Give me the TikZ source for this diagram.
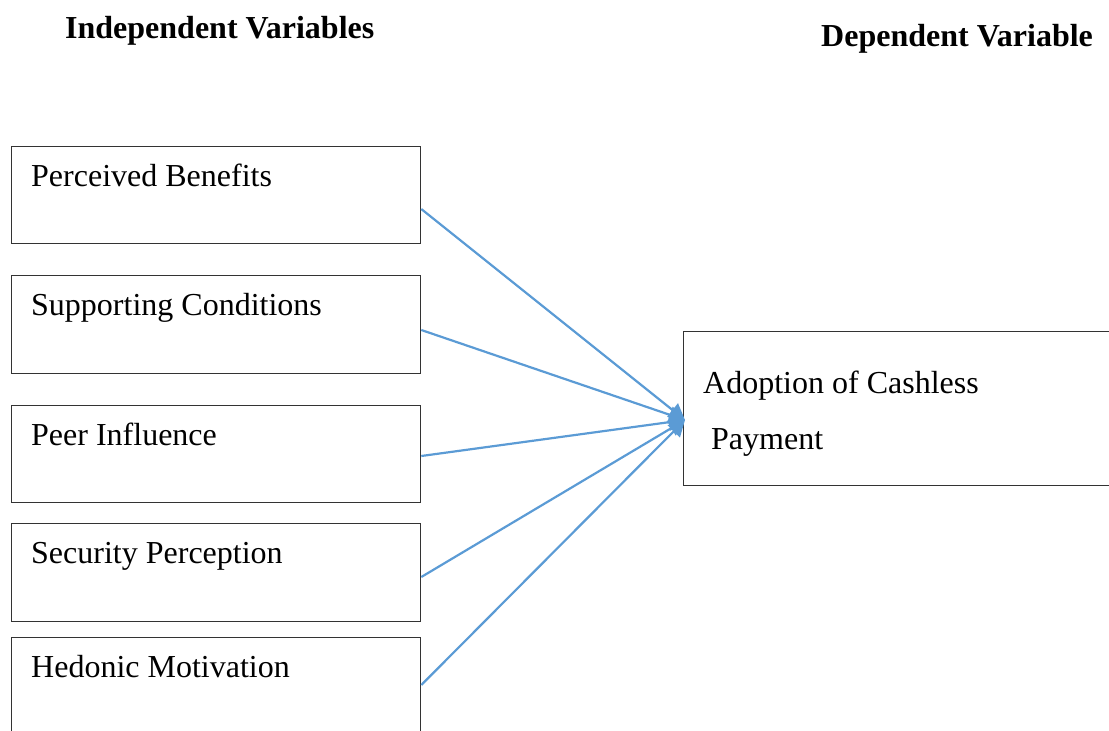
\documentclass[tikz,border=0pt]{standalone}
\usepackage{fontspec}
\setmainfont{Liberation Serif}
\usetikzlibrary{arrows.meta}
\definecolor{arrowblue}{HTML}{5B9BD5}
\definecolor{boxline}{HTML}{333333}
\tikzset{
  varbox/.style={draw=boxline, line width=1.3pt, rectangle, anchor=north west, inner sep=0pt},
  vartext/.style={anchor=base west, inner sep=0pt, font=\fontsize{32}{38}\selectfont},
  head/.style={anchor=base west, inner sep=0pt, font=\fontsize{32}{38}\selectfont\bfseries},
  conn/.style={draw=arrowblue, line width=2.2pt, -{Triangle[length=16pt,width=17pt]}}
}
\begin{document}
\begin{tikzpicture}[x=1pt,y=-1pt]
\useasboundingbox (0,0) rectangle (1109,731);
\clip (0,0) rectangle (1109,731);
\node[head] (hind) at (65,38) {Independent Variables};
\node[head] (hdep) at (821,46) {Dependent Variable};
% left boxes
\node[varbox, minimum width=409pt, minimum height=97pt] (b1) at (11,146) {};
\node[varbox, minimum width=409pt, minimum height=98pt] (b2) at (11,275) {};
\node[varbox, minimum width=409pt, minimum height=97pt] (b3) at (11,405) {};
\node[varbox, minimum width=409pt, minimum height=98pt] (b4) at (11,523) {};
\node[varbox, minimum width=409pt, minimum height=120pt] (b5) at (11,637) {};
\node[vartext] (t1) at (31,186) {Perceived Benefits};
\node[vartext] (t2) at (31,315) {Supporting Conditions};
\node[vartext] (t3) at (31,445) {Peer Influence};
\node[vartext] (t4) at (31,563) {Security Perception};
\node[vartext] (t5) at (31,677) {Hedonic Motivation};
% right box
\node[varbox, minimum width=460pt, minimum height=154pt] (dep) at (683,331) {};
\node[vartext] (d1) at (703,393) {Adoption of Cashless};
\node[vartext] (d2) at (711,449) {Payment};
\coordinate (tip) at (685,420);
\coordinate (s1) at (b1.east |- 0,209);
\coordinate (s2) at (b2.east |- 0,330);
\coordinate (s3) at (b3.east |- 0,456);
\coordinate (s4) at (b4.east |- 0,577);
\coordinate (s5) at (b5.east |- 0,685);
\foreach \s in {s1,s2,s3,s4,s5} \draw[conn] (\s) -- (tip);
\end{tikzpicture}
\end{document}
